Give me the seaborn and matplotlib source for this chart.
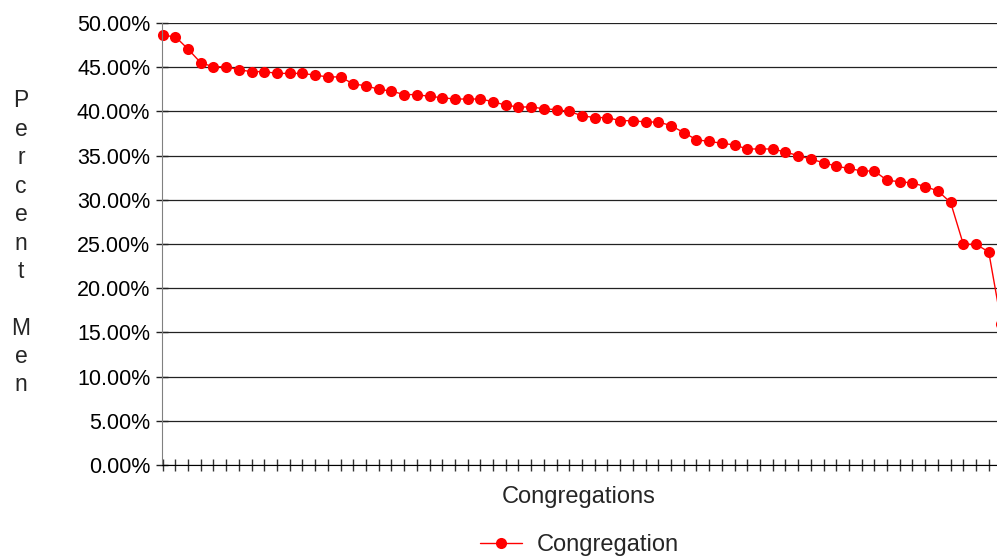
import matplotlib
matplotlib.use("Agg")
import matplotlib.pyplot as plt
import seaborn as sns
import pandas as pd
from matplotlib.ticker import PercentFormatter

# share of men per congregation, sorted high to low
pct_men = [48.6, 48.45, 47.05, 45.5, 45.05, 45.05, 44.7, 44.5, 44.5, 44.3,
           44.3, 44.3, 44.1, 43.9, 43.9, 43.1, 42.9, 42.5, 42.3, 41.9,
           41.9, 41.7, 41.55, 41.4, 41.4, 41.4, 41.1, 40.7, 40.5, 40.5,
           40.3, 40.2, 40.0, 39.5, 39.3, 39.3, 38.95, 38.95, 38.8, 38.8,
           38.4, 37.6, 36.8, 36.6, 36.4, 36.2, 35.75, 35.75, 35.75, 35.4,
           35.0, 34.6, 34.2, 33.8, 33.55, 33.26, 33.26, 32.2, 32.05, 31.9,
           31.5, 31.0, 29.7, 24.97, 24.97, 24.1, 16.0]
congregation = list(range(len(pct_men)))
y_ticks = [0, 5, 10, 15, 20, 25, 30, 35, 40, 45, 50]

df = pd.DataFrame({"Congregations": congregation,
                   "Percent Men": [v / 100 for v in pct_men]})

sns.set_style("white")
plt.rcParams["font.family"] = ["Liberation Sans", "DejaVu Sans"]

fig = plt.figure(figsize=(9.97, 5.56), dpi=100)
ax = fig.add_axes([162 / 997, (556 - 465) / 556, (997 - 162) / 997, 442 / 556])

sns.lineplot(data=df, x="Congregations", y="Percent Men", ax=ax,
             color="#ff0000", linewidth=1, marker="o", markersize=8,
             markeredgewidth=0, label="Congregation", clip_on=False)

ax.set_ylim(0, 0.5)
ax.set_xlim(-0.05, 65.65)
ax.set_yticks([t / 100 for t in y_ticks])
ax.yaxis.set_major_formatter(PercentFormatter(1.0, decimals=2))
ax.set_xticks(congregation[:66])
ax.set_xticklabels([])
ax.grid(axis="y", color="#222222", linewidth=0.9)
ax.set_axisbelow(True)

for s in ["top", "right"]:
    ax.spines[s].set_visible(False)
ax.spines["left"].set_color("#808080")
ax.spines["bottom"].set_color("black")
ax.tick_params(axis="y", direction="inout", length=9, width=1, colors="#222222",
               labelsize=15.5, pad=4, left=True)
ax.tick_params(axis="x", direction="inout", length=8, width=1, colors="#333333",
               bottom=True)
for lab in ax.get_yticklabels():
    lab.set_color("black")

ax.set_xlabel("")
ax.set_ylabel("")
fig.text(579 / 997, 1 - 497 / 556, "Congregations", ha="center", va="center",
         fontsize=17)
fig.text(21 / 997, 1 - 243 / 556, "P\ne\nr\nc\ne\nn\nt\n\nM\ne\nn",
         ha="center", va="center", fontsize=16.5, linespacing=1.3)

ax.legend(loc="center", bbox_to_anchor=(579 / 997, 1 - 545 / 556),
          bbox_transform=fig.transFigure, frameon=False, fontsize=17,
          handlelength=1.8, handletextpad=0.6, borderpad=0)

fig.savefig("out.png", dpi=100)
